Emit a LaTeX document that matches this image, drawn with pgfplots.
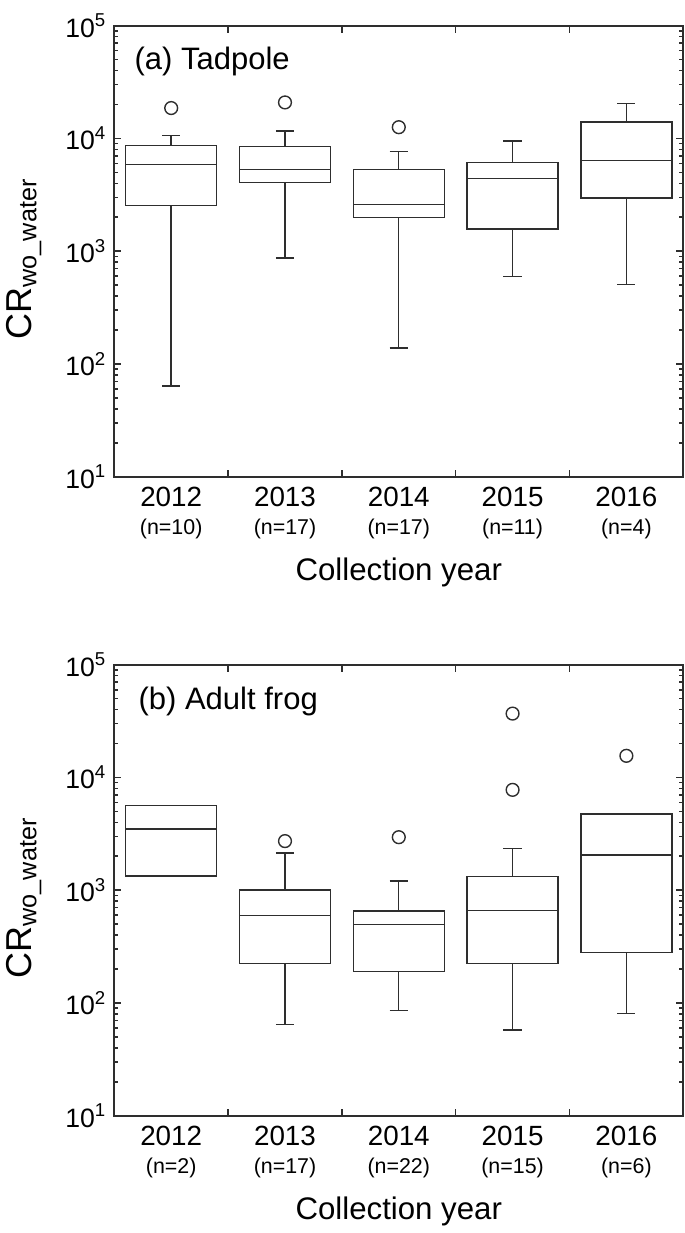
\documentclass[border=0pt]{standalone}
\usepackage{pgfplots}
\pgfplotsset{compat=1.18}
\usepgfplotslibrary{statistics}
\usepackage{fontspec}
\setmainfont{Liberation Sans}

\definecolor{ink}{gray}{0.18}

\newcommand{\nlab}[2]{#1\\{\fontsize{10.7bp}{14.2bp}\selectfont(n=#2)}}

\pgfplotsset{
  every axis/.append style={
    width=284.5bp, height=225.5bp, scale only axis,
    xmin=0.5, xmax=5.5,
    axis line style={line width=1bp, ink},
    tick style={line width=0.8bp, ink},
    tick align=inside,
    major tick length=3.5bp, minor tick length=2bp,
    xtick={1.5,2.5,3.5,4.5}, xticklabels={},
    extra x ticks={1,2,3,4,5},
    extra x tick style={
      tick style={draw=none},
      xticklabel style={align=center, anchor=north, inner sep=0pt, yshift=-5bp,
        font=\fontsize{13.9bp}{14.2bp}\selectfont},
    },
    ytick={10,100,1000,10000,100000},
    yticklabels={10\textsuperscript{1},10\textsuperscript{2},10\textsuperscript{3},10\textsuperscript{4},10\textsuperscript{5}},
    minor ytick={20,30,40,50,60,70,80,90,200,300,400,500,600,700,800,900,
      2000,3000,4000,5000,6000,7000,8000,9000,20000,30000,40000,50000,60000,70000,80000,90000},
    yticklabel style={font=\fontsize{13.3bp}{14bp}\selectfont, inner sep=0pt, xshift=-3.8bp},
    ylabel={CR\textsubscript{wo\_water}},
    ylabel style={at={(axis description cs:-0.159,0.483)}, anchor=center, inner sep=0pt,
      font=\fontsize{18bp}{18bp}\selectfont},
    xlabel={Collection year},
    xlabel style={at={(axis description cs:0.5,-0.213)}, anchor=center, inner sep=0pt,
      font=\fontsize{15.6bp}{16bp}\selectfont},
  },
  boxplot/draw direction=y,
  boxplot/box extend=0.8,
  boxplot/whisker extend=0.16,
  bx/.style={ink, line width=0.7bp, mark=o, mark size=3.2bp,
      mark options={line width=0.7bp, fill=none, solid}},
}

\begin{document}
\begin{tikzpicture}
% (a) tadpole
\begin{axis}[ymode=log, ymin=10, ymax=1e5,
  extra x tick labels={{\nlab{2012}{10}},{\nlab{2013}{17}},{\nlab{2014}{17}},{\nlab{2015}{11}},{\nlab{2016}{4}}}]
  \addplot[bx, boxplot prepared={draw position=1, lower whisker=63.5, lower quartile=2540,
    median=5860, upper quartile=8620, upper whisker=10600}] coordinates {(1,18600)};
  \addplot[bx, boxplot prepared={draw position=2, lower whisker=873, lower quartile=4050,
    median=5280, upper quartile=8480, upper whisker=11600}] coordinates {(2,20860)};
  \addplot[bx, boxplot prepared={draw position=3, lower whisker=138, lower quartile=1996,
    median=2582, upper quartile=5320, upper whisker=7700}] coordinates {(3,12580)};
  \addplot[bx, boxplot prepared={draw position=4, lower whisker=593, lower quartile=1569,
    median=4387, upper quartile=6100, upper whisker=9490}] coordinates {};
  \addplot[bx, boxplot prepared={draw position=5, lower whisker=505, lower quartile=2960,
    median=6400, upper quartile=13950, upper whisker=20530}] coordinates {};
  \node[anchor=west, inner sep=0pt, font=\fontsize{15.5bp}{16bp}\selectfont]
    at (axis description cs:0.035,0.92) {(a) Tadpole};
\end{axis}
% (b) adult frog
\begin{axis}[ymode=log, ymin=10, ymax=1e5, at={(0,-319.5bp)},
  extra x tick labels={{\nlab{2012}{2}},{\nlab{2013}{17}},{\nlab{2014}{22}},{\nlab{2015}{15}},{\nlab{2016}{6}}}]
  \addplot[bx, boxplot prepared={draw position=1, lower whisker=1339, lower quartile=1339,
    median=3490, upper quartile=5640, upper whisker=5640}] coordinates {};
  \addplot[bx, boxplot prepared={draw position=2, lower whisker=64.8, lower quartile=225,
    median=593, upper quartile=1004, upper whisker=2145}] coordinates {(2,2725)};
  \addplot[bx, boxplot prepared={draw position=3, lower whisker=85.8, lower quartile=190.6,
    median=497, upper quartile=652, upper whisker=1206}] coordinates {(3,2952)};
  \addplot[bx, boxplot prepared={draw position=4, lower whisker=57.5, lower quartile=225,
    median=663, upper quartile=1318, upper whisker=2342}] coordinates {(4,36840) (4,7762)};
  \addplot[bx, boxplot prepared={draw position=5, lower whisker=80.4, lower quartile=280,
    median=2045, upper quartile=4728, upper whisker=4728}] coordinates {(5,15550)};
  \node[anchor=west, inner sep=0pt, font=\fontsize{15.5bp}{16bp}\selectfont]
    at (axis description cs:0.042,0.918) {(b) Adult frog};
\end{axis}
\pgfresetboundingbox
\useasboundingbox (-57.15bp,-378.15bp) rectangle (285.35bp,238.35bp);
\end{tikzpicture}
\end{document}
